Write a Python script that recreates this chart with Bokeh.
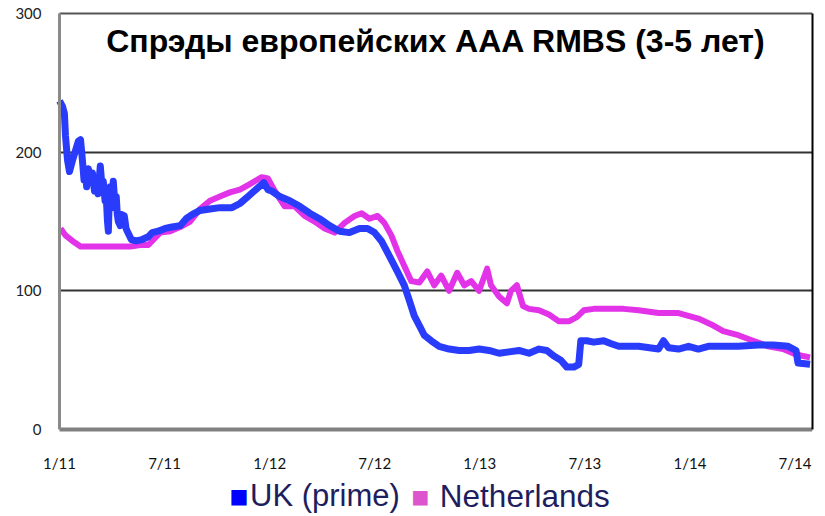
from bokeh.plotting import figure
from bokeh.models import FixedTicker, Label, Range1d, LinearAxis
from bokeh.embed import file_html
from bokeh.resources import INLINE

# Months since January 2011 and spreads (bp)
uk_month = [0.0, 0.17, 0.28, 0.34, 0.46, 0.57, 0.74, 0.91, 1.08, 1.2, 1.31, 1.4, 1.48, 1.55,
            1.65, 1.75, 1.88, 2.0, 2.11, 2.2, 2.33, 2.42, 2.5, 2.6, 2.67, 2.74, 2.79, 2.85,
            2.9, 3.0, 3.07, 3.15, 3.24, 3.3, 3.36, 3.47, 3.55, 3.7, 3.8, 3.87, 4.1, 4.38,
            4.72, 5.07, 5.29, 5.63, 6.03, 6.43, 6.89, 7.23, 7.57, 8.02, 8.59, 9.16, 9.85,
            10.3, 10.76, 11.21, 11.67, 11.9, 12.12, 12.58, 13.15, 13.72, 14.29, 14.85, 15.42,
            15.99, 16.56, 17.13, 17.59, 17.99, 18.38, 18.84, 19.29, 19.69, 19.98, 20.26,
            20.55, 20.83, 21.23, 21.68, 22.25, 22.82, 23.39, 23.96, 24.53, 25.1, 25.67,
            26.24, 26.81, 27.38, 27.83, 28.23, 28.63, 28.97, 29.37, 29.65, 29.77, 30.11,
            30.51, 31.08, 31.47, 31.93, 32.5, 33.07, 34.21, 34.49, 34.78, 35.35, 35.92,
            36.48, 37.05, 37.62, 38.76, 39.9, 40.76, 41.61, 42.06, 42.17, 42.86]
uk_spread = [237, 233, 228, 212, 194, 186, 194, 201, 208, 209, 194, 180, 186, 175,
             188, 178, 185, 172, 181, 170, 190, 176, 179, 165, 168, 150, 143, 170,
             175, 160, 179, 165, 168, 155, 150, 147, 155, 154, 145, 143, 137, 136,
             137, 139, 142, 143, 145, 146, 147, 152, 155, 158, 159, 160, 160,
             163, 168, 173, 178, 173, 172, 168, 165, 161, 156, 152, 147,
             143, 142, 145, 145, 142, 136, 125, 114, 104, 93, 82,
             75, 68, 64, 60, 58, 57, 57, 58, 57, 55, 56,
             57, 55, 58, 57, 53, 50, 45, 45, 47, 64, 64,
             63, 64, 62, 60, 60, 60, 58, 64, 59, 58, 60,
             58, 60, 60, 60, 61, 61, 60, 57, 48, 47]

nl_month = [0.06, 0.34, 0.74, 1.2, 1.76, 2.33, 2.9, 3.47, 4.04, 4.61, 5.07, 5.29, 5.75,
            6.32, 6.89, 7.46, 8.02, 8.59, 9.16, 9.73, 10.3, 10.87, 11.55, 11.9, 12.29,
            12.86, 13.43, 14.0, 14.57, 15.14, 15.71, 16.28, 16.85, 17.25, 17.7, 18.16,
            18.55, 18.95, 19.29, 19.69, 20.09, 20.55, 21.0, 21.4, 21.8, 22.25, 22.71,
            23.11, 23.51, 23.96, 24.42, 24.64, 25.1, 25.55, 25.78, 26.12, 26.47, 26.81,
            27.38, 27.95, 28.52, 29.08, 29.54, 29.94, 30.51, 31.36, 32.21, 33.07, 34.21,
            35.35, 36.48, 37.34, 37.9, 38.76, 39.61, 40.47, 41.32, 41.89, 42.46, 42.86]
nl_spread = [145, 140, 136, 132, 132, 132, 132, 132, 132, 133, 133, 136, 142,
             143, 146, 150, 159, 165, 168, 171, 173, 177, 182, 181, 172,
             161, 161, 154, 150, 145, 142, 149, 154, 156, 152, 154,
             149, 140, 129, 118, 107, 106, 114, 104, 111, 100, 113,
             104, 107, 100, 116, 104, 96, 91, 100, 104, 89, 87,
             86, 83, 78, 78, 81, 86, 87, 87, 87, 86, 84,
             84, 80, 75, 71, 68, 64, 60, 58, 55, 53, 52]

tick_months = [0, 6, 12, 18, 24, 30, 36, 42]
tick_labels = ["1/11", "7/11", "1/12", "7/12", "1/13", "7/13", "1/14", "7/14"]
y_ticks = [0, 100, 200, 300]
grid_ticks = [100, 200]
x_end = 43.0
y_top = 300

title_text = "Спрэды европейских AAA RMBS (3-5 лет)"
series_names = ["UK (prime)", "Netherlands"]

# The frame is larger than the chart box so that all labels sit inside it;
# the chart box itself is drawn with bounded, fixed-location axes.
p = figure(width=824, height=515, output_backend="svg", toolbar_location=None,
           x_range=Range1d(-2.513, x_end), y_range=Range1d(-62.0, 309.37),
           min_border_left=15, min_border_right=12, min_border_top=0, min_border_bottom=0)
p.outline_line_color = None
p.background_fill_color = "white"
p.xaxis.visible = False
p.yaxis.visible = False
p.grid.visible = False

no_ticks = dict(major_tick_line_color=None, minor_tick_line_color=None)

# Left value axis at month 0
val_ax = LinearAxis(fixed_location=0, bounds=(0, y_top), ticker=FixedTicker(ticks=y_ticks),
                    axis_line_color="#8a8a8a", axis_line_width=3,
                    major_label_text_font="Lato", major_label_text_font_size="15px",
                    major_label_text_color="#222222", major_label_standoff=12, **no_ticks)
p.add_layout(val_ax, "left")

# Right border
right_ax = LinearAxis(ticker=FixedTicker(ticks=[]), bounds=(0, y_top),
                      axis_line_color="black", axis_line_width=2,
                      major_label_text_font_size="0px", **no_ticks)
p.add_layout(right_ax, "right")

# Date axis at value 0
date_ax = LinearAxis(fixed_location=0, bounds=(0, x_end), ticker=FixedTicker(ticks=tick_months),
                     major_label_overrides={m: l for m, l in zip(tick_months, tick_labels)},
                     axis_line_color="#808080", axis_line_width=4,
                     major_label_text_font="Lato", major_label_text_font_size="15px",
                     major_label_text_color="#111111", major_label_standoff=18, **no_ticks)
p.add_layout(date_ax, "below")

# Horizontal grid lines and top border, bounded to the chart box
for loc, col in [(grid_ticks[0], "#333333"), (grid_ticks[1], "#333333"), (y_top, "#555555")]:
    g = LinearAxis(fixed_location=loc, bounds=(0, x_end), ticker=FixedTicker(ticks=[]),
                   axis_line_color=col, axis_line_width=2,
                   major_label_text_font_size="0px", level="underlay", **no_ticks)
    p.add_layout(g, "below")

# Series
p.line(nl_month, nl_spread, line_color="#e233e8", line_width=6, line_join="round")
p.line(uk_month, uk_spread, line_color="#2a3cfb", line_width=7, line_join="round")

# Title inside plot
p.add_layout(Label(x=21.5, y=280.5, text=title_text, text_align="center",
                   text_baseline="alphabetic", text_font="Liberation Sans",
                   text_font_style="bold", text_font_size="32px", text_color="black"))

# Legend row
p.add_layout(Label(x=9.71, y=-47.6, text="■", text_baseline="alphabetic",
                   text_font="DejaVu Sans", text_font_size="20px", text_color="#0000ff"))
p.add_layout(Label(x=10.88, y=-47.6, text=series_names[0], text_baseline="alphabetic",
                   text_font="Liberation Sans", text_font_size="31px", text_color="#1e1e5e"))
p.add_layout(Label(x=20.1, y=-47.6, text="■", text_baseline="alphabetic",
                   text_font="DejaVu Sans", text_font_size="19px", text_color="#dd55cc"))
p.add_layout(Label(x=21.72, y=-47.6, text=series_names[1], text_baseline="alphabetic",
                   text_font="Liberation Sans", text_font_size="31.5px", text_color="#1e1e5e"))

open("out.html", "w").write(file_html(p, INLINE))
